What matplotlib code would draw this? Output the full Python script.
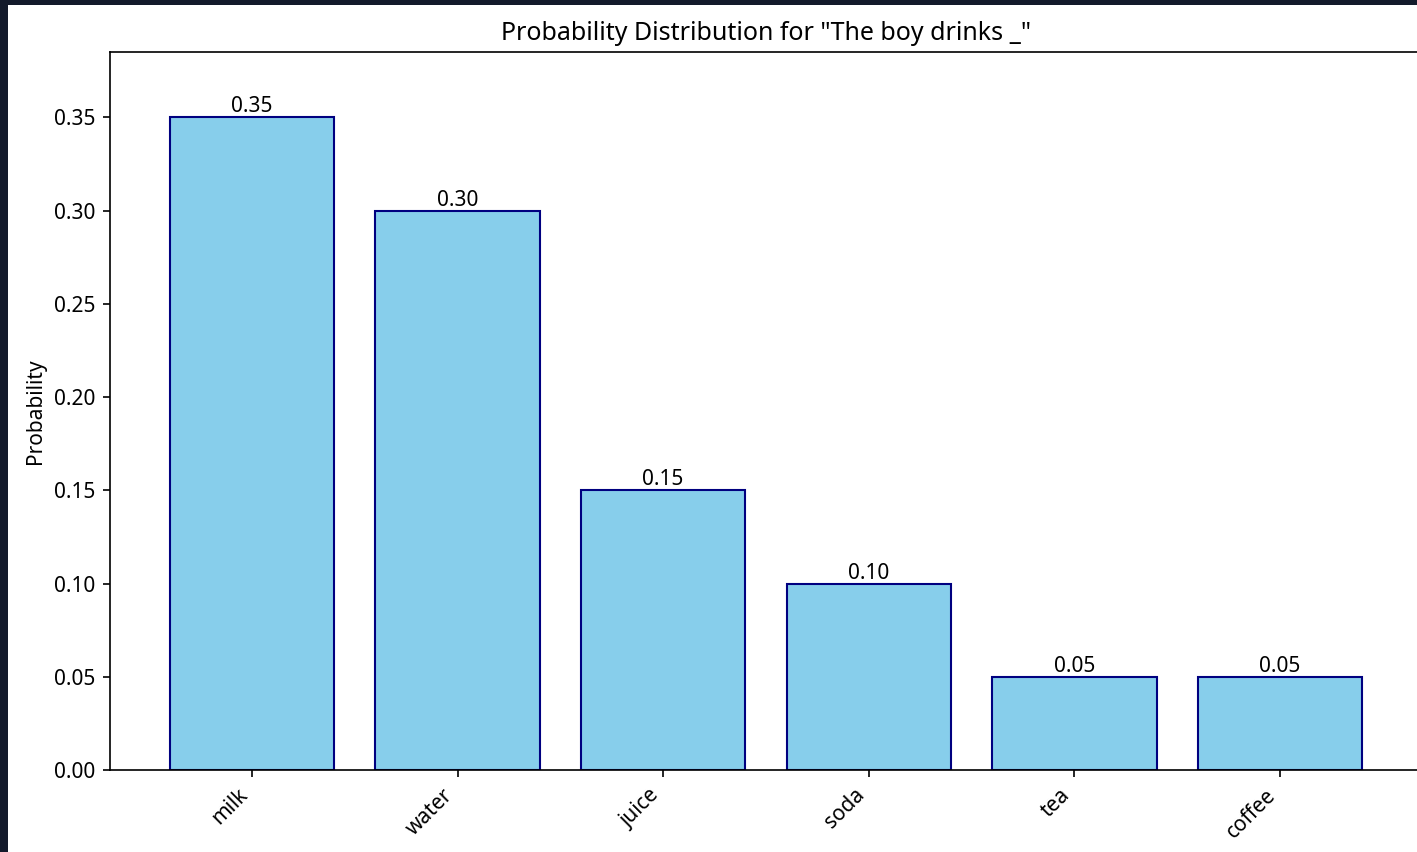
import numpy as np
import matplotlib
matplotlib.use("Agg")
import matplotlib.pyplot as plt
from matplotlib.patches import Rectangle

words = ["milk", "water", "juice", "soda", "tea", "coffee"]
probs = [0.35, 0.30, 0.15, 0.10, 0.05, 0.05]

plt.rcParams["font.family"] = ["Noto Sans", "DejaVu Sans"]

W, H = 1417, 852
DPI = 150
fig = plt.figure(figsize=(W / DPI, H / DPI), dpi=DPI, facecolor="#131a2b")

# white canvas of the screenshot (dark border left and top)
fig.patches.append(Rectangle((8 / W, 0), 1, 1 - 5 / H, transform=fig.transFigure,
                             facecolor="white", edgecolor="none", zorder=-10))

ax = fig.add_axes([110 / W, (H - 770) / H, 1312 / W, 718 / H])
x = np.arange(len(words))
bars = ax.bar(x, probs, width=0.8, color="skyblue", edgecolor="navy")

for b, p in zip(bars, probs):
    ax.text(b.get_x() + b.get_width() / 2, p, f"{p:.2f}",
            ha="center", va="bottom")

ax.set_xticks(x)
ax.set_xticklabels(words, rotation=45, ha="right")
ax.set_ylim(0, 0.385)
ax.set_ylabel("Probability")
ax.set_title('Probability Distribution for "The boy drinks _"')

fig.savefig("out.png", dpi=DPI, facecolor=fig.get_facecolor())
